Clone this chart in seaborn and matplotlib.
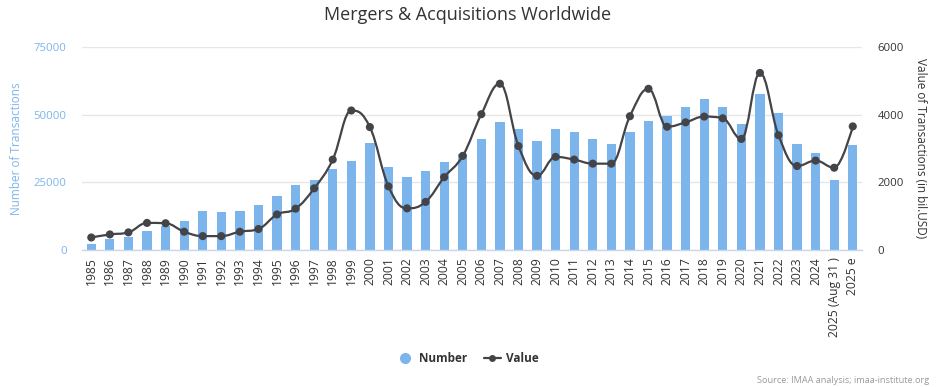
import numpy as np
import pandas as pd
import matplotlib.pyplot as plt
import seaborn as sns
from matplotlib.path import Path
from matplotlib.patches import PathPatch
from matplotlib.lines import Line2D
from matplotlib.ticker import FixedLocator

# Données
years = [str(y) for y in range(1985, 2025)] + ["2025 (Aug 31 )", "2025 e"]
number = [2300, 4200, 4900, 7100, 8900, 10700, 14400, 14000, 14400, 16600,
          19900, 23900, 26000, 30000, 32800, 39400, 30600, 26800, 29200, 32500,
          35300, 41000, 47100, 44500, 40200, 44500, 43400, 41000, 39100, 43400,
          47500, 49600, 52900, 55800, 52900, 46600, 57700, 50400, 39100, 35800,
          25900, 38700]
value = [370, 460, 520, 800, 790, 540, 410, 410, 540, 620,
         1050, 1220, 1820, 2670, 4120, 3630, 1880, 1230, 1420, 2150,
         2780, 4010, 4910, 3070, 2190, 2750, 2670, 2550, 2550, 3950,
         4760, 3640, 3770, 3940, 3890, 3280, 5230, 3390, 2480, 2640,
         2430, 3650]

BLUE = "#7cb5ec"
DARK = "#434348"
AXIS = "#ccd6eb"

df = pd.DataFrame({"year": years, "number": number, "value": value})
df["pos"] = np.arange(len(df))


def spline_path(xs, ys, smoothing=1.5):
    # courbe lissée façon Highcharts (segments de Bézier cubiques)
    n = len(xs)
    lc = [(xs[i], ys[i]) for i in range(n)]
    rc = [(xs[i], ys[i]) for i in range(n)]
    den = smoothing + 1
    for i in range(1, n - 1):
        px, py = xs[i], ys[i]
        lx, ly = xs[i - 1], ys[i - 1]
        nx, ny = xs[i + 1], ys[i + 1]
        lcx = (smoothing * px + lx) / den
        lcy = (smoothing * py + ly) / den
        rcx = (smoothing * px + nx) / den
        rcy = (smoothing * py + ny) / den
        if rcx != lcx:
            corr = (rcy - lcy) * (rcx - px) / (rcx - lcx) + py - rcy
            lcy += corr
            rcy += corr
        if lcy > ly and lcy > py:
            lcy = max(ly, py)
            rcy = 2 * py - lcy
        elif lcy < ly and lcy < py:
            lcy = min(ly, py)
            rcy = 2 * py - lcy
        if rcy > ny and rcy > py:
            rcy = max(ny, py)
            lcy = 2 * py - rcy
        elif rcy < ny and rcy < py:
            rcy = min(ny, py)
            lcy = 2 * py - rcy
        lc[i] = (lcx, lcy)
        rc[i] = (rcx, rcy)
    verts = [(xs[0], ys[0])]
    codes = [Path.MOVETO]
    for i in range(1, n):
        verts += [rc[i - 1], lc[i], (xs[i], ys[i])]
        codes += [Path.CURVE4] * 3
    return Path(verts, codes)


sns.set_theme(style="white")
plt.rcParams['font.family'] = ['Open Sans', 'DejaVu Sans']

fig = plt.figure(figsize=(9.36, 3.87), dpi=100)
ax = fig.add_axes([0.0876, 0.354, 0.8334, 0.525])

sns.barplot(data=df, x="year", y="number", ax=ax, color=BLUE, saturation=1,
            width=0.5, edgecolor="none", zorder=2)
ax.set_ylim(0, 75000)
ax.set_yticks([0, 25000, 50000, 75000])
ax.set_yticklabels(["0", "25000", "50000", "75000"])
ax.set_xlim(-0.5, len(df) - 0.5)
ax.grid(axis="y", color="#e6e6e6", linewidth=1, zorder=0)
ax.set_axisbelow(True)
for s in ["left", "right", "top"]:
    ax.spines[s].set_visible(False)
ax.spines["bottom"].set_color(AXIS)
ax.spines["bottom"].set_linewidth(1)
ax.spines["bottom"].set_zorder(3)

ax.set_xticks(df["pos"])
ax.set_xticklabels(years, rotation=90, fontsize=8.7, color="#333333")
ax.tick_params(axis="x", which="major", length=0, pad=5)
ax.xaxis.set_minor_locator(FixedLocator(np.arange(-0.5, len(df), 1.0)))
ax.tick_params(axis="x", which="minor", length=7, width=1, color=AXIS, direction="out")
ax.tick_params(axis="y", length=0, labelsize=8.2, labelcolor=BLUE, pad=11)
ax.set_xlabel("")
ax.set_ylabel("Number of Transactions", color=BLUE, fontsize=8.5, va="center")
ax.yaxis.set_label_coords(-0.084, 0.5)

ax2 = ax.twinx()
ax2.set_ylim(0, 6000)
ax2.set_yticks([0, 2000, 4000, 6000])
ax2.set_yticklabels(["0", "2000", "4000", "6000"])
ax2.tick_params(axis="y", length=0, labelsize=8.2, labelcolor="#333333", pad=11)
for s in ["left", "right", "top", "bottom"]:
    ax2.spines[s].set_visible(False)
ax2.grid(False)

curve = spline_path(df["pos"].to_numpy(float), df["value"].to_numpy(float))
ax2.add_patch(PathPatch(curve, facecolor="none", edgecolor=DARK, linewidth=1.6,
                        transform=ax2.transData, zorder=3))
sns.scatterplot(data=df, x="pos", y="value", ax=ax2, color=DARK, s=34,
                edgecolor="none", zorder=4, legend=False)
ax2.set_xlim(-0.5, len(df) - 0.5)
ax2.set_xlabel("")
ax2.set_ylabel("Value of Transactions (in bil.USD)", color="#333333", fontsize=8.5,
               rotation=270, va="center")
ax2.yaxis.set_label_coords(1.075, 0.5)

fig.text(0.5, 0.962, "Mergers & Acquisitions Worldwide", ha="center", va="center",
         fontsize=13, color="#333333")

handles = [
    Line2D([0], [0], marker="o", linestyle="none", markersize=8,
           markerfacecolor=BLUE, markeredgecolor="none"),
    Line2D([0], [0], marker="o", color=DARK, linewidth=1.6, markersize=5,
           markeredgecolor="none"),
]
leg = fig.legend(handles, ["Number", "Value"], loc="center", ncol=2,
                 bbox_to_anchor=(0.500, 0.073), frameon=False,
                 prop={"weight": "bold", "size": 8.5}, handlelength=1.4,
                 columnspacing=1.4, handletextpad=0.5)
for t in leg.get_texts():
    t.set_color("#333333")

fig.text(0.993, 0.016, "Source: IMAA analysis; imaa-institute.org", ha="right",
         va="center", fontsize=6.6, color="#999999")

fig.savefig("out.png", dpi=100)
